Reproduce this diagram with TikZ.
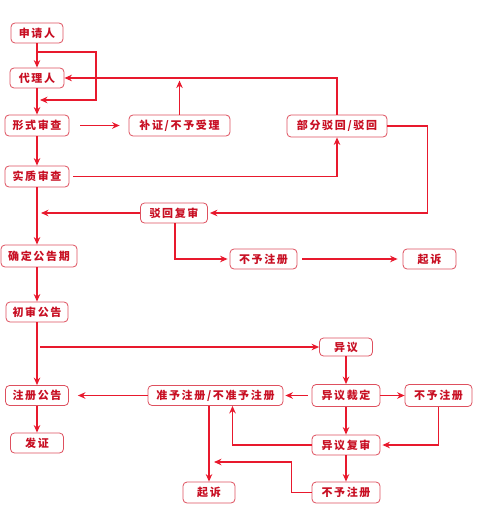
\documentclass[tikz,border=0pt]{standalone}
\usepackage{fontspec}
\newfontfamily\cjk[LetterSpace=15]{Noto Sans CJK SC}
\usetikzlibrary{arrows.meta}
\definecolor{linered}{RGB}{232,25,45}
\definecolor{boxred}{RGB}{222,80,95}
\definecolor{txtred}{RGB}{200,15,35}
\tikzset{
  box/.style={draw=boxred, line width=0.8pt, rounded corners=4pt, fill=white, text=txtred,
    font=\cjk\bfseries\fontsize{11}{12}\selectfont, inner sep=0pt, minimum height=20pt, align=center},
  ln/.style={draw=linered, line width=1.5pt},
  arr/.style={ln, -{Stealth[length=7.5pt,width=6.5pt]}}
}
\begin{document}
\begin{tikzpicture}[x=1pt,y=-1pt]
\useasboundingbox (0,0) rectangle (476,513);
% left column
\node[box, minimum width=52pt] (a1) at (37,33) {申请人};
\node[box, minimum width=54pt] (a2) at (37,78) {代理人};
\node[box, minimum width=64pt, minimum height=21pt] (a3) at (37,125.5) {形式审查};
\node[box, minimum width=64pt, minimum height=21pt] (a4) at (37,176.5) {实质审查};
\node[box, minimum width=76pt, minimum height=22pt] (a5) at (39,256) {确定公告期};
\node[box, minimum width=62pt] (a6) at (37,312) {初审公告};
\node[box, minimum width=63pt] (a7) at (37,395.5) {注册公告};
\node[box, minimum width=53pt] (a8) at (37,443) {发证};
% upper right
\node[box, minimum width=101pt, minimum height=21pt] (b1) at (179.5,125.5) {补证/不予受理};
\node[box, minimum width=100pt, minimum height=22pt] (b2) at (337,126) {部分驳回/驳回};
\node[box, minimum width=67pt] (c1) at (174,213) {驳回复审};
\node[box, minimum width=67pt] (c2) at (263.5,259) {不予注册};
\node[box, minimum width=53pt] (c3) at (429.5,259) {起诉};
% lower right
\node[box, minimum width=53pt, minimum height=18pt] (d1) at (346,347) {异议};
\node[box, minimum width=135pt] (d2) at (215.5,395.5) {准予注册/不准予注册};
\node[box, minimum width=68pt, minimum height=22pt] (d3) at (346,395.5) {异议裁定};
\node[box, minimum width=67pt, minimum height=22pt] (d4) at (438.5,395.5) {不予注册};
\node[box, minimum width=68pt] (d5) at (346,445) {异议复审};
\node[box, minimum width=52pt, minimum height=21pt] (d6) at (209,492.5) {起诉};
\node[box, minimum width=68pt, minimum height=21pt] (d7) at (346,492.5) {不予注册};
% helper coordinates
\coordinate (k1) at (37,52);
\coordinate (k2) at (40,100);
\coordinate (k3) at (41,213);
\coordinate (k4) at (40,347);
\coordinate (k5) at (214,462);
% connectors
\draw[arr] (a1) -- (a2);
\draw[arr] (k1) -| (96,100) -- (k2);
\draw[arr] (a2) -- (a3);
\draw[arr] (a3) -- (a4);
\draw[arr] ([xshift=11pt]a3.east) -- ([xshift=-9pt]b1.west);
\draw[arr] (b1.north) -- ([yshift=34pt]b1.north);
\draw[arr] (b2.north) |- (a2.east);
\draw[arr] ([xshift=4pt]a4.east) -| (b2.south);
\draw[arr] (b2.east) -- ++(40,0) |- ([xshift=2pt]c1.east);
\draw[arr] (c1.west) -- (k3);
\draw[arr] (a4) -- (a4 |- a5.north);
\draw[arr] ([xshift=1pt]c1.south) |- ([xshift=-2pt]c2.west);
\draw[arr] ([xshift=5pt]c2.east) -- ([xshift=-5pt]c3.west);
\draw[arr] (a5.south -| a6.north) -- (a6.north);
\draw[arr] (a6) -- (a7);
\draw[arr] (k4) -- (d1.west);
\draw[arr] (d1) -- (d3);
\draw[arr] ([xshift=-4pt]d3.west) -- ([xshift=2pt]d2.east);
\draw[arr] (d3.east) -- (d4.west);
\draw[arr] (d3) -- (d5);
\draw[arr] (d4.south) |- ([xshift=2pt]d5.east);
\draw[arr] (d5.west) -| ([xshift=17pt]d2.south);
\draw[arr] (d5) -- (d7);
\draw[arr] (d7.west) -- ++(-20,0) |- (k5);
\draw[arr] (d6.north |- d2.south) -- (d6.north);
\draw[arr] (d2.west) -- ([xshift=9pt]a7.east);
\draw[arr] (a7) -- (a8);
\end{tikzpicture}
\end{document}
